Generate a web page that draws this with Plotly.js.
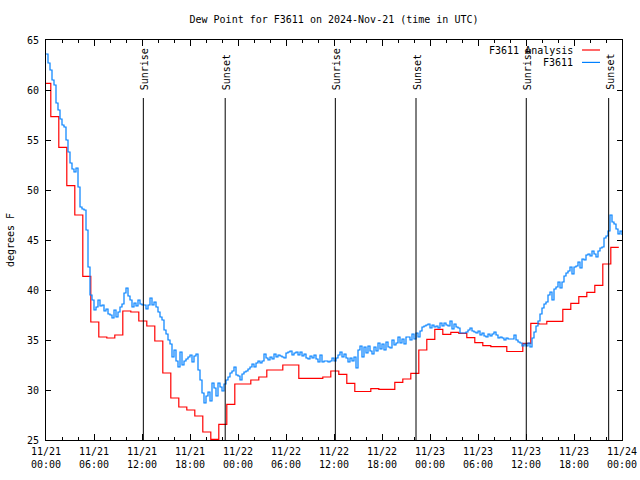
<!DOCTYPE html>
<html>
<head>
<meta charset="utf-8">
<script src="https://cdn.plot.ly/plotly-3.0.1.min.js"></script>
<style>html,body{margin:0;padding:0;background:#fff;}#chart{width:640px;height:480px;}</style>
</head>
<body>
<div id="chart"></div>
<script>
// Observed dew point (F3611), one value every 15 minutes from 2024-11-21 00:00 UTC
// (each row = one hour: :00, :15, :30, :45)
const obsStart = '2024-11-21T00:00:00Z';
const obsDew = [
  63.6, 62.7, 62.0, 61.0,
  60.5, 58.7, 58.0, 57.1,
  56.5, 56.3, 55.0, 53.8,
  52.7, 52.1, 51.8, 52.2,
  50.3, 48.3, 48.1, 48.0,
  46.0, 42.3, 39.5, 39.0,
  38.0, 38.3, 39.0, 38.4,
  38.5, 37.9, 38.1, 37.6,
  37.5, 37.2, 38.0, 37.3,
  37.8, 38.3, 38.6, 39.7,
  40.2, 39.4, 39.0, 38.3,
  38.7, 38.4, 39.0, 38.6,
  38.5, 38.5, 38.1, 38.5,
  39.2, 38.5, 38.8, 38.3,
  37.8, 37.3, 37.0, 36.0,
  35.6, 35.0, 34.6, 33.3,
  34.0, 32.9, 32.3, 33.8,
  32.5, 32.9, 33.1, 33.3,
  33.5, 32.8, 33.4, 33.6,
  32.0, 31.0, 29.7, 28.7,
  29.4, 29.8, 28.9, 30.7,
  30.2, 29.4, 30.7, 30.3,
  29.9, 30.6, 31.0, 31.3,
  31.7, 31.9, 32.3, 31.5,
  31.4, 31.0, 31.6, 31.8,
  31.9, 32.1, 32.3, 32.6,
  32.3, 32.7, 32.9, 32.7,
  32.9, 33.6, 33.2, 33.0,
  33.3, 33.1, 33.6, 33.3,
  33.5, 33.4, 33.3, 33.2,
  33.7, 33.8, 33.9, 33.5,
  33.7, 33.8, 33.5, 33.8,
  33.4, 33.6, 33.2, 33.1,
  33.4, 33.2, 33.5, 33.1,
  32.8, 33.5, 32.8, 32.9,
  32.9, 32.8, 32.9, 33.2,
  32.9, 33.2, 33.5, 33.8,
  33.3, 33.6, 33.2, 32.8,
  33.2, 32.9, 33.3, 32.2,
  34.0, 34.4, 33.3, 34.3,
  33.7, 34.4, 33.9, 33.6,
  34.3, 33.9, 34.7, 34.1,
  34.6, 34.0, 34.8, 34.3,
  34.2, 35.0, 34.5, 34.7,
  35.3, 34.7, 35.1, 34.6,
  35.3, 35.3, 35.0, 35.6,
  35.1, 35.7, 35.3, 35.9,
  36.3, 36.4, 36.5, 36.6,
  36.2, 36.5, 36.3, 36.4,
  36.2, 36.7, 36.4, 36.7,
  36.5, 36.4, 36.9, 36.1,
  36.6, 36.3, 36.2, 35.7,
  35.7, 35.7, 35.8, 36.0,
  36.2, 35.9, 35.8, 35.7,
  35.9, 35.5, 35.7, 35.4,
  35.3, 35.6, 35.4, 35.6,
  35.8, 35.5, 35.2, 35.3,
  35.2, 35.0, 35.2, 35.1,
  35.1, 35.1, 35.5, 35.0,
  34.8, 34.7, 34.4, 34.6,
  34.4, 34.7, 34.3, 35.2,
  35.8, 36.4, 36.9, 37.6,
  38.2, 38.6, 38.8, 39.5,
  39.8, 39.0, 40.1, 40.3,
  40.8, 40.2, 40.8, 41.4,
  41.7, 41.9, 42.3, 41.6,
  42.3, 42.4, 42.8, 42.2,
  43.1, 43.0, 43.5, 43.6,
  43.4, 43.9, 43.6, 43.3,
  43.9, 44.2, 44.3, 45.2,
  45.4, 45.9, 47.5, 46.8,
  46.6, 46.1, 45.6, 45.9,
  45.5
];

// Hourly analysis dew point (F3611 Analysis), first value valid 2024-11-20 23:36 UTC
const anaStart = '2024-11-20T23:36:00Z';
const anaDew = [
  60.67, 57.33, 54.27, 50.43, 47.5, 41.37, 36.8, 35.3, 35.2, 35.5,
  37.9, 37.8, 36.9, 36.4, 34.9, 31.7, 29.2, 28.3, 28.0, 27.4,
  25.8, 25.07, 26.57, 28.57, 30.6, 30.6, 31.0, 31.3, 32.0, 32.0,
  32.5, 32.5, 31.17, 31.17, 31.17, 31.3, 31.9, 31.57, 30.67, 29.85,
  29.85, 30.13, 30.07, 30.07, 30.77, 31.1, 31.67, 34.0, 35.07, 36.07,
  35.57, 35.77, 35.67, 35.23, 34.73, 34.43, 34.33, 34.33, 33.85, 33.85,
  34.67, 36.67, 36.6, 36.87, 36.87, 38.07, 38.67, 39.33, 39.77, 40.47,
  42.6, 44.27, 44.27
];

// Sunrise / sunset markers
const sunTimes = ['2024-11-21 12:10', '2024-11-21 22:24', '2024-11-22 12:10',
                  '2024-11-22 22:15', '2024-11-23 12:02', '2024-11-23 22:20'];
const sunLabels = ['Sunrise', 'Sunset', 'Sunrise', 'Sunset', 'Sunrise', 'Sunset'];

const seriesNames = ['F3611 Analysis', 'F3611'];
const seriesColors = ['#ff0000', '#0080ff'];

function fmt(ms) { return new Date(ms).toISOString().replace('T', ' ').slice(0, 19); }
const obsT0 = Date.parse(obsStart), anaT0 = Date.parse(anaStart);
const obsX = obsDew.map((_, i) => fmt(obsT0 + i * 15 * 60000));
const anaX = anaDew.map((_, i) => fmt(anaT0 + i * 3600000));

const FONT = 'DejaVu Sans Mono, Liberation Mono, monospace';

const traces = [
  { x: anaX, y: anaDew, type: 'scatter', mode: 'lines', name: seriesNames[0],
    line: { color: seriesColors[0], width: 1.2, shape: 'hv' }, cliponaxis: true },
  { x: obsX, y: obsDew, type: 'scatter', mode: 'lines', name: seriesNames[1],
    line: { color: seriesColors[1], width: 1.2, shape: 'hv' }, cliponaxis: true }
];

const shapes = [];
const annotations = [];
sunTimes.forEach((t, i) => {
  shapes.push({ type: 'line', xref: 'x', yref: 'paper', x0: t, x1: t, y0: 0, y1: 0.855,
    line: { color: '#000', width: 1 } });
  annotations.push({ x: t, xref: 'x', y: 0.87, yref: 'paper', text: sunLabels[i],
    textangle: -90, showarrow: false, xanchor: 'center', yanchor: 'bottom',
    xshift: 1, font: { family: FONT, size: 10, color: '#000' } });
});
// key (text right-aligned, sample line to the right, as in the original)
const keyY = [0.975, 0.944];
seriesNames.forEach((n, i) => {
  annotations.push({ x: 0.9184, xref: 'paper', y: keyY[i], yref: 'paper', text: n,
    showarrow: false, xanchor: 'right', yanchor: 'middle',
    font: { family: FONT, size: 10, color: '#000' } });
  shapes.push({ type: 'line', xref: 'paper', yref: 'paper', x0: 0.9306, x1: 0.9618,
    y0: keyY[i], y1: keyY[i], line: { color: seriesColors[i], width: 1.2 } });
});

const layout = {
  width: 640, height: 480,
  margin: { l: 46, r: 18, t: 40, b: 40 },
  paper_bgcolor: '#fff', plot_bgcolor: '#fff',
  font: { family: FONT, size: 10, color: '#000' },
  showlegend: false,
  title: { text: 'Dew Point for F3611 on 2024-Nov-21 (time in UTC)',
    font: { family: FONT, size: 10, color: '#000' },
    xref: 'paper', x: 0.5, xanchor: 'center', yref: 'container', y: 0.96, yanchor: 'middle' },
  xaxis: {
    type: 'date', range: ['2024-11-21 00:00', '2024-11-24 00:00'],
    tick0: '2024-11-21 00:00', dtick: 6 * 3600000, tickformat: '%m/%d<br>%H:%M',
    ticks: 'inside', ticklen: 6, tickcolor: '#000', tickwidth: 1,
    minor: { dtick: 2 * 3600000, ticks: 'inside', ticklen: 3, tickcolor: '#000', showgrid: false },
    showline: true, linecolor: '#000', linewidth: 1, mirror: 'ticks',
    showgrid: false, zeroline: false, automargin: false,
    ticklabelstandoff: 2,
    tickfont: { family: FONT, size: 10, color: '#000' }
  },
  yaxis: {
    range: [25, 65], dtick: 5, tick0: 25,
    ticks: 'inside', ticklen: 5, tickcolor: '#000', tickwidth: 1,
    showline: true, linecolor: '#000', linewidth: 1, mirror: 'ticks',
    showgrid: false, zeroline: false, automargin: false,
    ticklabelstandoff: 4,
    tickfont: { family: FONT, size: 10, color: '#000' },
    title: { text: 'degrees F', font: { family: FONT, size: 10, color: '#000' }, standoff: 10 }
  },
  shapes: shapes,
  annotations: annotations
};

Plotly.newPlot('chart', traces, layout, { staticPlot: true, displayModeBar: false });
</script>
</body>
</html>
